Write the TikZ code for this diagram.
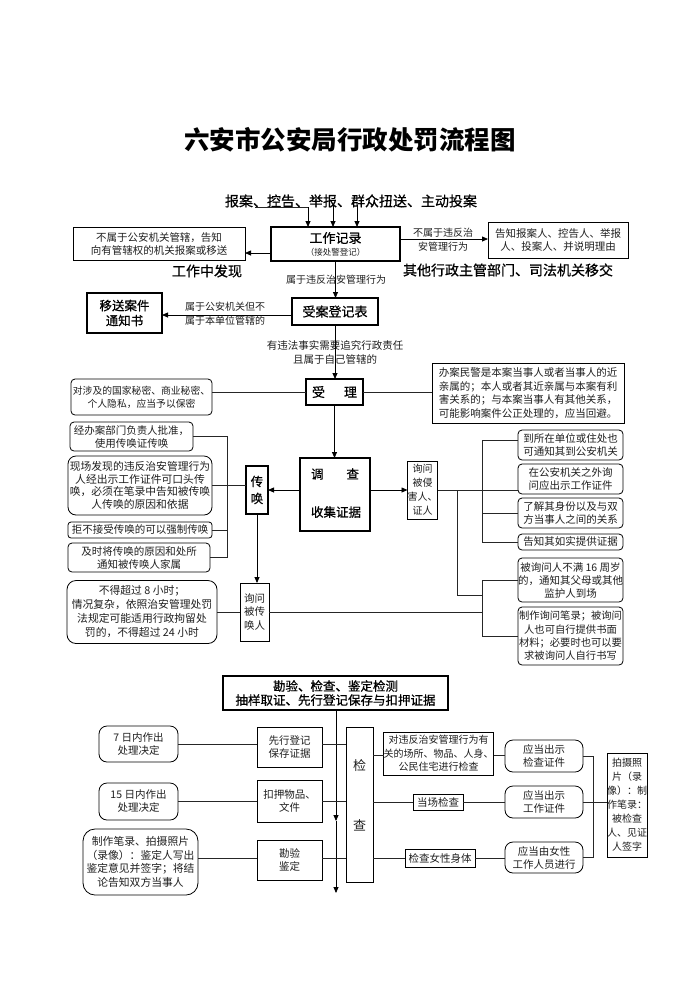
\documentclass[tikz,border=0pt]{standalone}
\usepackage{fontspec}
\setmainfont{Noto Sans CJK SC}
\newfontfamily\hei{Noto Sans CJK SC}[FakeBold=0.6]
\usetikzlibrary{arrows.meta,calc}
\newcommand\myfs[2]{\fontsize{#1}{#2}\selectfont}
\begin{document}
\begin{tikzpicture}[x=1pt,y=-1pt,
  every node/.style={inner sep=0pt, outer sep=0pt, text=black!88, align=center, font=\myfs{10.5}{13}},
  tbox/.style={draw=black, line width=0.8pt},
  rbox/.style={draw=black, line width=0.8pt, rounded corners=4pt},
  kbox/.style={draw=black, line width=1.6pt, text=black},
  head/.style={text=black},
  ln/.style={draw=black!85, line width=0.8pt},
  arr/.style={draw=black, line width=0.8pt, -{Triangle[length=6pt,width=5pt]}}]
\useasboundingbox (0,0) rectangle (700,989);
\fill[white] (0,0) rectangle (700,989);

% title and sources
\node[head, font=\myfs{25.5}{28}\bfseries] (title) at (350,140) {六安市公安局行政处罚流程图};
\node[head, font=\hei\myfs{14}{16}] (src) at (351,201) {报案、控告、举报、群众扭送、主动投案};

% work record
\node[kbox, minimum width=129pt, minimum height=34pt] (gzjl) at (335.5,244) {};
\node[head, font=\hei\myfs{13}{15}] (gzjlt) at (335.5,238) {工作记录};
\node[font=\myfs{8.5}{10}] (gzjls) at (335.5,252) {（接处警登记）};

\coordinate (s1) at (255,207);
\coordinate (s1b) at (308,207);
\coordinate (s2) at (333,205);
\coordinate (s3) at (357,205);
\draw[ln] (s1) -- (s1b);
\draw[arr] (s1b) -- (s1b |- gzjl.north);
\draw[arr] (s2) -- (s2 |- gzjl.north);
\draw[arr] (s3) -- (s3 |- gzjl.north);

\node[tbox, minimum width=172pt, minimum height=33pt] (lb1) at (159,244) {不属于公安机关管辖，告知\\向有管辖权的机关报案或移送};
\draw[arr] ([yshift=-9pt]gzjl.west) -- ([yshift=-9pt]lb1.east);
\node[head, font=\hei\myfs{14}{16}] (fx) at (207,271) {工作中发现};

\node[tbox, minimum width=140pt, minimum height=36pt] (rb1) at (558,240) {告知报案人、控告人、举报\\人、投案人、并说明理由};
\draw[arr] ([yshift=5pt]gzjl.east) -- ([yshift=1pt]rb1.west);
\node[font=\myfs{10}{14}] (lbr) at (443,240) {不属于违反治\\安管理行为};
\node[head, font=\hei\myfs{14}{16}] (yj) at (508,270) {其他行政主管部门、司法机关移交};

% case registration
\node[kbox, minimum width=86pt, minimum height=27pt, font=\hei\myfs{13}{15}] (sadj) at (335,311.5) {受案登记表};
\draw[arr] (gzjl.south) -- (gzjl.south |- sadj.north);
\node[font=\myfs{10}{12}] (l2) at (336,280) {属于违反治安管理行为};

\node[kbox, minimum width=75pt, minimum height=40pt, font=\hei\myfs{12.5}{15}] (ys) at (124.5,313) {移送案件\\通知书};
\coordinate (ya) at (0,315);
\draw[arr] (sadj.west |- ya) -- (ys.east |- ya);
\node[font=\myfs{10}{14}] (l3) at (225,314) {属于公安机关但不\\属于本单位管辖的};
\node[font=\myfs{10.5}{14}] (l4) at (335,352) {有违法事实需要追究行政责任\\且属于自己管辖的};

% acceptance
\node[kbox, minimum width=57pt, minimum height=26pt, font=\hei\myfs{13}{15}] (sl) at (334.5,392) {受\hspace{19pt}理};
\draw[arr] (sadj.south) -- (sadj.south |- sl.north);
\node[rbox, minimum width=141pt, minimum height=36pt, font=\myfs{9.8}{13}] (bm) at (141.5,397) {对涉及的国家秘密、商业秘密、\\个人隐私，应当予以保密};
\draw[ln] (sl.west) -- (bm.east |- sl.west);
\node[tbox, minimum width=192pt, minimum height=60pt, align=left, font=\myfs{10.5}{13.5}] (hb) at (528,393) {办案民警是本案当事人或者当事人的近\\亲属的；本人或者其近亲属与本案有利\\害关系的；与本案当事人有其他关系，\\可能影响案件公正处理的，应当回避。};
\draw[ln] (sl.east) -- (hb.west |- sl.east);

% investigation
\node[kbox, minimum width=70pt, minimum height=73pt] (dc) at (335,494.5) {};
\node[head, font=\hei\myfs{12.5}{15}] (dct1) at (335,474) {调\hspace{23pt}查};
\node[head, font=\hei\myfs{12.5}{15}] (dct2) at (336,512) {收集证据};
\draw[arr] (sl.south) -- (sl.south |- dc.north);

\node[draw=black, line width=1.4pt, minimum width=22pt, minimum height=48pt, head, font=\hei\myfs{12.5}{17}] (ch) at (257,490) {传\\唤};
\draw[arr] (dc.west |- ch.east) -- (ch.east);
\node[tbox, minimum width=29pt, minimum height=58pt, font=\myfs{10}{14}] (xq) at (422.5,490) {询问\\被侵\\害人、\\证人};
\draw[arr] (dc.east |- xq.west) -- (xq.west);
\node[tbox, minimum width=29pt, minimum height=58pt, font=\myfs{10.5}{14}] (xc) at (254.5,612) {询问\\被传\\唤人};
\draw[arr] (ch.south) -- (ch.south |- xc.north);

% summons notes
\node[rbox, minimum width=123pt, minimum height=29pt] (L1) at (131.5,436.5) {经办案部门负责人批准，\\使用传唤证传唤};
\node[rbox, rounded corners=8pt, minimum width=144pt, minimum height=59pt, font=\myfs{10.8}{12.5}] (L2) at (140,485.5) {现场发现的违反治安管理行为\\人经出示工作证件可口头传\\唤，必须在笔录中告知被传唤\\人传唤的原因和依据};
\node[rbox, rounded corners=3pt, minimum width=144pt, minimum height=16pt] (L3) at (140,530) {拒不接受传唤的可以强制传唤};
\node[rbox, minimum width=142pt, minimum height=29pt] (L4) at (139,557.5) {及时将传唤的原因和处所\\通知被传唤人家属};
\coordinate (bkl) at (227,0);
\draw[ln] (L1.east) -- (L1.east -| bkl) -- (L4.east -| bkl) -- (L4.east);
\draw[ln] (L2.east) -- (L2.east -| ch.west);
\draw[ln] (L3.east) -- (L3.east -| bkl);

\node[rbox, rounded corners=9pt, minimum width=150pt, minimum height=63pt, font=\myfs{10.8}{14}] (bg) at (142,612) {不得超过 8 小时；\\情况复杂，依照治安管理处罚\\法规定可能适用行政拘留处\\罚的，不得超过 24 小时};
\draw[ln] (bg.east) -- (xc.west);

% questioning notes
\node[rbox, minimum width=105pt, minimum height=30pt] (R1) at (570.5,445) {到所在单位或住处也\\可通知其到公安机关};
\node[rbox, minimum width=105pt, minimum height=30pt] (R2) at (570.5,479) {在公安机关之外询\\问应出示工作证件};
\node[rbox, minimum width=105pt, minimum height=30pt] (R3) at (570.5,513) {了解其身份以及与双\\方当事人之间的关系};
\node[rbox, minimum width=105pt, minimum height=16pt] (R4) at (570.5,542) {告知其如实提供证据};
\node[rbox, minimum width=105pt, minimum height=44pt] (R5) at (570.5,580) {被询问人不满 16 周岁\\的，通知其父母或其他\\监护人到场};
\node[rbox, minimum width=105pt, minimum height=58pt, font=\myfs{10.3}{13.3}] (R6) at (570.5,636) {制作询问笔录；被询问\\人也可自行提供书面\\材料；必要时也可以要\\求被询问人自行书写};
\coordinate (bkr) at (482,0);
\coordinate (r1y) at (0,440);
\draw[ln] (xq.east) -- (R2.west |- xq.east);
\draw[ln] (R1.west |- r1y) -- (bkr |- r1y) -- (bkr |- R4.west) -- (R4.west);
\draw[ln] (R3.west) -- (R3.west -| bkr);
\draw[ln] (R5.west) -- (R5.west -| bkr) -- (R6.west -| bkr) -- (R6.west);
\draw[ln] (xc.east) -- (xc.east -| bkr);
\coordinate (jn) at (457,595);
\draw[ln] (jn |- xq.east) -- (jn) -- (jn -| bkr);

% inspection section
\node[kbox, minimum width=225pt, minimum height=34pt, font=\hei\myfs{12.5}{14}] (hd) at (335.5,693) {勘验、检查、鉴定检测\\抽样取证、先行登记保存与扣押证据};
\coordinate (ae1) at (336,821);
\coordinate (ae2) at (336,893);
\draw[arr] (hd.south -| ae1) -- (ae1);
\draw[arr] (ae1) -- (ae2);

\node[tbox, minimum width=27pt, minimum height=155pt] (jc) at (359.5,804.5) {};
\node[font=\myfs{13}{15}] (jct1) at (359.5,765) {检};
\node[font=\myfs{13}{15}] (jct2) at (359.5,825) {查};

\node[rbox, rounded corners=8pt, minimum width=79pt, minimum height=36pt] (B1) at (138.5,744) {7 日内作出\\处理决定};
\node[tbox, minimum width=65pt, minimum height=40pt] (B2) at (289.5,747) {先行登记\\保存证据};
\draw[ln] (B1.east) -- (B1.east -| B2.west);
\draw[ln] (B1.east -| B2.east) -- (B1.east -| jc.west);

\node[rbox, rounded corners=8pt, minimum width=79pt, minimum height=37pt] (B3) at (138.5,801.5) {15 日内作出\\处理决定};
\node[tbox, minimum width=65pt, minimum height=42pt] (B4) at (289.5,801) {扣押物品、\\文件};
\draw[ln] (B3.east) -- (B3.east -| B4.west);
\draw[ln] (B3.east -| B4.east) -- (B3.east -| jc.west);

\node[rbox, rounded corners=12pt, minimum width=115pt, minimum height=66pt, font=\myfs{10.8}{13.5}] (B5) at (140.5,862) {制作笔录、拍摄照片\\（录像）：鉴定人写出\\鉴定意见并签字；将结\\论告知双方当事人};
\node[tbox, minimum width=65pt, minimum height=40pt] (B6) at (289.5,860) {勘验\\鉴定};
\coordinate (y3) at (0,858);
\draw[ln] (B5.east |- y3) -- (B6.west |- y3);
\draw[ln] (B6.east |- y3) -- (jc.west |- y3);

\node[tbox, minimum width=109pt, minimum height=43pt, font=\myfs{10}{13.5}] (D1) at (438.5,753.5) {对违反治安管理行为有\\关的场所、物品、人身、\\公民住宅进行检查};
\node[tbox, minimum width=50pt, minimum height=16pt] (D2) at (438,802) {当场检查};
\node[tbox, minimum width=70pt, minimum height=18pt] (D3) at (440,858) {检查女性身体};
\node[rbox, rounded corners=8pt, minimum width=78pt, minimum height=32pt] (E1) at (544,756) {应当出示\\检查证件};
\node[rbox, rounded corners=8pt, minimum width=78pt, minimum height=32pt] (E2) at (544,802) {应当出示\\工作证件};
\node[rbox, rounded corners=8pt, minimum width=78pt, minimum height=31pt] (E3) at (544,857.5) {应当由女性\\工作人员进行};
\node[tbox, minimum width=40pt, minimum height=104pt, font=\myfs{10}{14}] (F) at (627,805) {拍摄照\\片（录\\像）：制\\作笔录：\\被检查\\人、见证\\人签字};

\coordinate (y1) at (0,755);
\draw[ln] (jc.east |- y1) -- (D1.west |- y1);
\draw[ln] (D1.east |- y1) -- (E1.west |- y1);
\draw[ln] (jc.east |- D2.west) -- (D2.west);
\draw[ln] (D2.east) -- (E2.west);
\draw[ln] (jc.east |- D3.west) -- (D3.west);
\draw[ln] (D3.east) -- (E3.west |- D3.east);
\coordinate (bkb) at (593,0);
\draw[ln] (E1.east) -- (E1.east -| bkb) -- (E3.east -| bkb) -- (E3.east);
\draw[ln] (E2.east) -- (F.west |- E2.east);
\end{tikzpicture}
\end{document}
